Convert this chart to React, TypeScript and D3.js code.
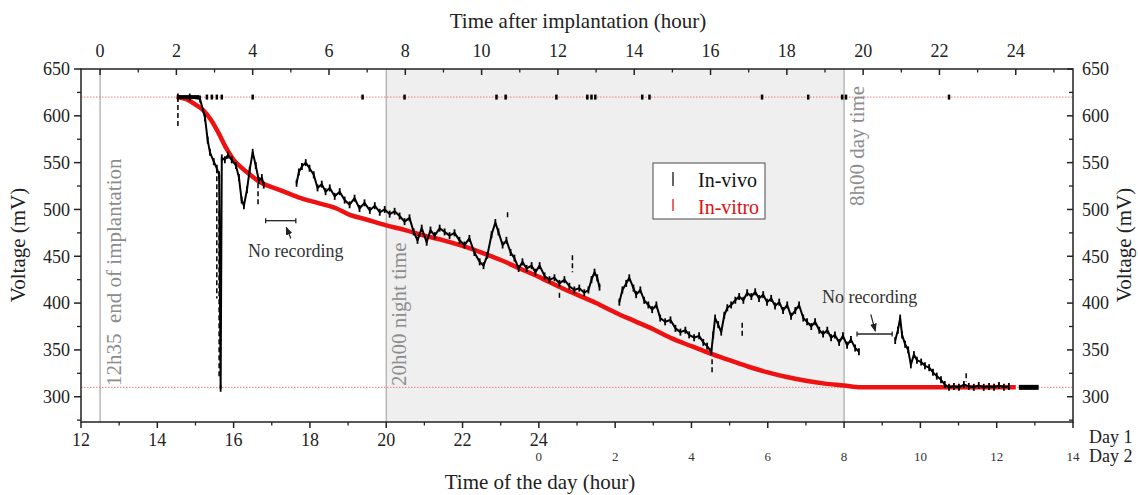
import React from "react";
import * as d3 from "d3";

const W = 1138;
const H = 495;
const PL = 81, PR = 1073, PT = 69, PB = 422;

const xDomain: [number, number] = [12, 38];
const yDomain: [number, number] = [273, 650];
const topOffset = 12.5;
const day1Ticks = [12, 14, 16, 18, 20, 22, 24];
const day2Ticks = [0, 2, 4, 6, 8, 10, 12, 14];
const topTicks = [0, 2, 4, 6, 8, 10, 12, 14, 16, 18, 20, 22, 24];
const yTicks = [300, 350, 400, 450, 500, 550, 600, 650];
const yMinor = [275, 325, 375, 425, 475, 525, 575, 625];
const nightStart = 20;
const nightEnd = 32;
const implantEnd = 12.5;
const refLevels = [620, 310];

// in-vitro (hour of day, continuing past 24 into day 2; mV)
const inVitro: [number, number][] = [
  [14.5, 620], [14.8, 617], [15.0, 612], [15.2, 606], [15.4, 596], [15.6, 582],
  [15.8, 566], [16.0, 553], [16.2, 545], [16.4, 538], [16.7, 529], [17.2, 521],
  [17.7, 513], [18.2, 507], [18.7, 501], [19.0, 495], [19.5, 489], [20.0, 483],
  [20.5, 478], [21.0, 472], [21.5, 467], [22.0, 461], [22.5, 454], [23.0, 446],
  [23.5, 437], [24.0, 428], [24.5, 418], [25.0, 409], [25.5, 400], [26.0, 390],
  [26.5, 381], [27.0, 372], [27.5, 362], [28.0, 354], [28.5, 346], [29.0, 339],
  [29.5, 332], [30.0, 326], [30.5, 321], [31.0, 317], [31.5, 314], [32.0, 312],
  [32.43, 310], [36.5, 310],
];

// in-vivo recorded segments
const inVivoA: [number, number][] = [
  [14.54, 620], [14.85, 620], [15.12, 618], [15.25, 598], [15.32, 574], [15.38, 561],
  [15.48, 551], [15.56, 544], [15.62, 537], [15.66, 309], [15.69, 555], [15.77, 553],
  [15.85, 558], [15.95, 553], [16.06, 547], [16.14, 534], [16.21, 510], [16.27, 504],
  [16.35, 521], [16.42, 542], [16.5, 561], [16.58, 547], [16.66, 531], [16.74, 534],
  [16.79, 526],
];
const inVivoB: [number, number][] = [
  [17.65, 528], [17.71, 540], [17.79, 546], [17.89, 550], [17.99, 544], [18.1, 537],
  [18.2, 523], [18.31, 527], [18.41, 519], [18.52, 523], [18.65, 514], [18.78, 519],
  [18.91, 510], [19.04, 505], [19.17, 512], [19.3, 501], [19.43, 507], [19.57, 499],
  [19.7, 504], [19.83, 497], [19.96, 500], [20.09, 495], [20.22, 498], [20.35, 493],
  [20.48, 487], [20.61, 491], [20.72, 476], [20.82, 467], [20.93, 480], [21.06, 465],
  [21.16, 478], [21.27, 472], [21.4, 480], [21.53, 476], [21.66, 472], [21.79, 475],
  [21.92, 467], [22.05, 462], [22.18, 469], [22.31, 454], [22.45, 444], [22.55, 440],
  [22.65, 451], [22.76, 473], [22.86, 486], [22.94, 476], [23.05, 462], [23.15, 467],
  [23.26, 454], [23.36, 448], [23.47, 437], [23.57, 444], [23.68, 437], [23.81, 440],
  [23.91, 433], [24.02, 440], [24.15, 429], [24.28, 425], [24.41, 427], [24.54, 421],
  [24.67, 425], [24.8, 418], [24.93, 414], [25.06, 416], [25.19, 411], [25.3, 414],
  [25.38, 425], [25.46, 433], [25.53, 427], [25.59, 417],
];
const inVivoC: [number, number][] = [
  [26.11, 401], [26.19, 414], [26.29, 421], [26.37, 427], [26.48, 416], [26.55, 409],
  [26.66, 414], [26.76, 403], [26.87, 398], [26.97, 393], [27.08, 398], [27.18, 384],
  [27.31, 380], [27.45, 382], [27.58, 373], [27.71, 369], [27.84, 371], [27.94, 366],
  [28.07, 363], [28.2, 365], [28.31, 358], [28.41, 354], [28.52, 348], [28.57, 366],
  [28.62, 384], [28.7, 377], [28.78, 369], [28.86, 387], [28.94, 395], [29.04, 398],
  [29.15, 403], [29.25, 407], [29.36, 403], [29.46, 411], [29.57, 407], [29.67, 412],
  [29.77, 405], [29.88, 409], [29.98, 401], [30.09, 405], [30.19, 397], [30.3, 401],
  [30.4, 392], [30.51, 398], [30.61, 386], [30.72, 392], [30.82, 398], [30.93, 384],
  [31.03, 380], [31.14, 375], [31.24, 380], [31.35, 371], [31.45, 367], [31.56, 371],
  [31.66, 363], [31.76, 366], [31.87, 358], [31.97, 365], [32.08, 355], [32.18, 361],
  [32.29, 352], [32.39, 348],
];
const inVivoD: [number, number][] = [
  [33.34, 360], [33.41, 371], [33.47, 384], [33.52, 366], [33.6, 356], [33.68, 350],
  [33.75, 334], [33.83, 345], [33.91, 339], [34.02, 337], [34.12, 333], [34.23, 331],
  [34.33, 326], [34.43, 322], [34.54, 318], [34.64, 313], [34.75, 310], [34.88, 311],
  [35.01, 310], [35.14, 313], [35.27, 311], [35.4, 310], [35.53, 312], [35.66, 310],
  [35.8, 311], [35.93, 310], [36.06, 312], [36.19, 310], [36.32, 311],
];
const inVivoTail: [number, number][] = [[36.58, 310], [37.1, 310]];
const inVivoSaturated = [
  15.3, 15.43, 15.56, 15.69, 16.5, 19.38, 20.48, 22.89, 23.13, 24.46, 25.27, 25.38,
  25.48, 26.71, 26.9, 29.85, 31.06, 31.95, 32.05, 34.75,
];
const inVivoSpikes: [number, number, number][] = [
  [14.54, 620, 588], [15.56, 544, 405], [15.62, 498, 320], [16.64, 528, 505],
  [23.18, 497, 490], [24.54, 411, 403], [24.88, 451, 433], [28.54, 340, 323],
  [29.33, 379, 364], [35.2, 325, 316],
];

const noRecording = [
  { from: 16.84, to: 17.63, v: 488, textT: 17.63, textV: 449, arrow: [[17.5, 469], [17.38, 481]] },
  { from: 32.34, to: 33.26, v: 367, textT: 32.67, textV: 400, arrow: [[32.7, 388], [32.82, 370]] },
];

const SERIF = "'Liberation Serif', 'Times New Roman', serif";

export default function App() {
  const x = d3.scaleLinear().domain(xDomain).range([PL, PR]);
  const xTop = d3.scaleLinear().domain([xDomain[0] - topOffset, xDomain[1] - topOffset]).range([PL, PR]);
  const y = d3.scaleLinear().domain(yDomain).range([PB, PT]);
  const line = d3.line<[number, number]>().x((d) => x(d[0])).y((d) => y(d[1]));
  const vitroLine = d3.line<[number, number]>().x((d) => x(d[0])).y((d) => y(d[1])).curve(d3.curveMonotoneX);
  const segments = [inVivoA, inVivoB, inVivoC, inVivoD];
  const bottomMinor = d3.range(13, 38, 2);
  const topMinor = d3.range(1, 26, 2);
  const grey = "#8c8c8c";

  return (
    <svg width={W} height={H} style={{ position: "absolute", left: 0, top: 0, background: "#fff" }} fontFamily={SERIF}>
      <defs>
        <clipPath id="plot"><rect x={PL} y={PT} width={PR - PL} height={PB - PT} /></clipPath>
        <marker id="arr" viewBox="0 0 10 10" refX="9" refY="5" markerWidth="7" markerHeight="7" orient="auto-start-reverse">
          <path d="M0,1 L10,5 L0,9 z" fill="#222" />
        </marker>
      </defs>
      {/* night shading */}
      <rect x={x(nightStart)} y={PT} width={x(nightEnd) - x(nightStart)} height={PB - PT} fill="#efefef" />
      {[implantEnd, nightStart, nightEnd].map((t) => (
        <line key={t} x1={x(t)} x2={x(t)} y1={PT} y2={PB} stroke="#a8a8a8" strokeWidth={1.2} />
      ))}
      {refLevels.map((v) => (
        <line key={v} x1={PL} x2={PR} y1={y(v)} y2={y(v)} stroke="#ef7b7b" strokeWidth={1} strokeDasharray="1.5,1.5" />
      ))}
      {/* vertical annotations */}
      <text transform={`translate(${x(implantEnd) + 21},386) rotate(-90)`} fontSize={21} fill={grey} xmlSpace="preserve">12h35  end of implantation</text>
      <text transform={`translate(${x(nightStart) + 20},386) rotate(-90)`} fontSize={21} fill={grey}>20h00 night time</text>
      <text transform={`translate(${x(nightEnd) + 20},206) rotate(-90)`} fontSize={21} fill={grey}>8h00 day time</text>

      <g clipPath="url(#plot)">
        {/* in-vitro */}
        <path d={vitroLine(inVitro) || ""} fill="none" stroke="#ee1111" strokeWidth={4.5} />
        {/* in-vivo */}
        {segments.map((s, i) => (
          <path key={i} d={line(s) || ""} fill="none" stroke="#000" strokeWidth={2} strokeLinejoin="round" />
        ))}
        {segments.flat().map((d, i) => (
          <line key={"m" + i} x1={x(d[0])} x2={x(d[0])} y1={y(d[1]) - 3.5} y2={y(d[1]) + 3.5} stroke="#000" strokeWidth={1.8} />
        ))}
        {inVivoSpikes.map((s, i) => (
          <line key={"s" + i} x1={x(s[0])} x2={x(s[0])} y1={y(s[1])} y2={y(s[2])} stroke="#000" strokeWidth={1.5} strokeDasharray="5,3" />
        ))}
        {inVivoSaturated.map((t, i) => (
          <line key={"t" + i} x1={x(t)} x2={x(t)} y1={y(620) - 2.5} y2={y(620) + 2.5} stroke="#000" strokeWidth={2.5} />
        ))}
        <path d={line(inVivoTail) || ""} fill="none" stroke="#000" strokeWidth={5} />
        <line x1={x(14.54)} x2={x(15.1)} y1={y(620)} y2={y(620)} stroke="#000" strokeWidth={4} />
      </g>

      {/* no recording annotations */}
      {noRecording.map((n, i) => (
        <g key={"nr" + i}>
          <line x1={x(n.from)} x2={x(n.to)} y1={y(n.v)} y2={y(n.v)} stroke="#222" strokeWidth={1.3} />
          <line x1={x(n.from)} x2={x(n.from)} y1={y(n.v) - 2.5} y2={y(n.v) + 2.5} stroke="#222" strokeWidth={1.3} />
          <line x1={x(n.to)} x2={x(n.to)} y1={y(n.v) - 2.5} y2={y(n.v) + 2.5} stroke="#222" strokeWidth={1.3} />
          <line x1={x(n.arrow[0][0])} y1={y(n.arrow[0][1])} x2={x(n.arrow[1][0])} y2={y(n.arrow[1][1])} stroke="#222" strokeWidth={1.2} markerEnd="url(#arr)" />
          <text x={x(n.textT)} y={y(n.textV)} fontSize={18} fill="#333" textAnchor="middle">No recording</text>
        </g>
      ))}

      {/* legend */}
      <rect x={653} y={163} width={112} height={56} fill="#fff" stroke="#666" strokeWidth={1.2} />
      <line x1={673} x2={673} y1={172} y2={186} stroke="#333" strokeWidth={1.5} />
      <text x={698} y={187} fontSize={20} fill="#111">In-vivo</text>
      <line x1={673} x2={673} y1={199} y2={211} stroke="#e33" strokeWidth={1.5} />
      <text x={698} y={214} fontSize={20} fill="#e01010">In-vitro</text>

      {/* frame */}
      <rect x={PL} y={PT} width={PR - PL} height={PB - PT} fill="none" stroke="#222" strokeWidth={1.5} />

      {/* bottom axis */}
      {d3.range(12, 39, 2).map((t) => (
        <line key={"bt" + t} x1={x(t)} x2={x(t)} y1={PB} y2={PB + 6} stroke="#222" strokeWidth={1.5} />
      ))}
      {bottomMinor.map((t) => (
        <line key={"bm" + t} x1={x(t)} x2={x(t)} y1={PB} y2={PB + 3.5} stroke="#222" strokeWidth={1.3} />
      ))}
      {day1Ticks.map((t) => (
        <text key={"d1" + t} x={x(t)} y={446} fontSize={18} textAnchor="middle" fill="#222">{t}</text>
      ))}
      {day2Ticks.map((t) => (
        <text key={"d2" + t} x={x(t + 24)} y={461} fontSize={13} textAnchor="middle" fill="#333">{t}</text>
      ))}
      <text x={1089} y={443} fontSize={18} fill="#222">Day 1</text>
      <text x={1089} y={462} fontSize={18} fill="#222">Day 2</text>
      <text x={540} y={489} fontSize={21} textAnchor="middle" fill="#222">Time of the day (hour)</text>

      {/* top axis */}
      {topTicks.map((t) => (
        <g key={"tt" + t}>
          <line x1={xTop(t)} x2={xTop(t)} y1={PT} y2={PT + 6} stroke="#222" strokeWidth={1.5} />
          <text x={xTop(t)} y={57} fontSize={18} textAnchor="middle" fill="#222">{t}</text>
        </g>
      ))}
      {topMinor.map((t) => (
        <line key={"tm" + t} x1={xTop(t)} x2={xTop(t)} y1={PT} y2={PT + 3.5} stroke="#222" strokeWidth={1.3} />
      ))}
      <text x={578} y={28} fontSize={21} textAnchor="middle" fill="#222">Time after implantation (hour)</text>

      {/* left & right axes */}
      {yTicks.map((v) => (
        <g key={"y" + v}>
          <line x1={PL - 7} x2={PL} y1={y(v)} y2={y(v)} stroke="#222" strokeWidth={1.5} />
          <text x={PL - 11} y={y(v)} dy="0.35em" fontSize={18} textAnchor="end" fill="#222">{v}</text>
          <line x1={PR - 6} x2={PR} y1={y(v)} y2={y(v)} stroke="#222" strokeWidth={1.5} />
          <text x={PR + 9} y={y(v)} dy="0.35em" fontSize={18} textAnchor="start" fill="#222">{v}</text>
        </g>
      ))}
      {yMinor.map((v) => (
        <g key={"ym" + v}>
          <line x1={PL - 4} x2={PL} y1={y(v)} y2={y(v)} stroke="#222" strokeWidth={1.3} />
          <line x1={PR - 4} x2={PR} y1={y(v)} y2={y(v)} stroke="#222" strokeWidth={1.3} />
        </g>
      ))}
      <text transform={`translate(25,245) rotate(-90)`} fontSize={21} textAnchor="middle" fill="#222">Voltage (mV)</text>
      <text transform={`translate(1131,245) rotate(-90)`} fontSize={21} textAnchor="middle" fill="#222">Voltage (mV)</text>
    </svg>
  );
}
